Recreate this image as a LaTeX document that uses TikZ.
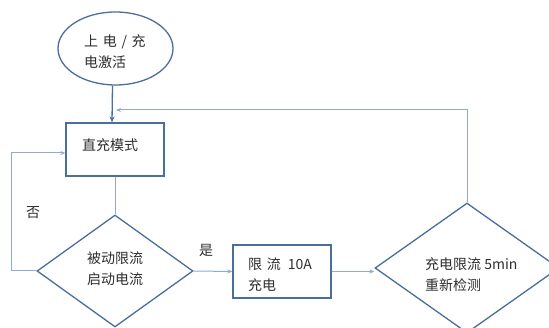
\documentclass[tikz,border=0pt]{standalone}
\usepackage{fontspec}
\newfontfamily\cjk{Noto Sans CJK SC}
\usetikzlibrary{shapes.geometric,arrows.meta}
\definecolor{shapeblue}{HTML}{4A6E9E}
\definecolor{linkblue}{HTML}{8FAAD6}
\definecolor{txt}{HTML}{2E2E2E}
\tikzset{
  shapeline/.style={draw=shapeblue, line width=1.3pt},
  boxnode/.style={shapeline, rectangle, inner sep=0pt},
  link/.style={draw=linkblue, line width=1pt, -{Stealth[length=5pt,width=4pt]}},
  plainlink/.style={draw=linkblue, line width=1pt},
  darklink/.style={draw=shapeblue, line width=1.3pt, -{Stealth[length=6pt,width=5pt]}},
  lbl/.style={font=\cjk\fontsize{14}{21}\selectfont, text=txt, inner sep=0pt, align=left, anchor=west}
}
\begin{document}
\begin{tikzpicture}[x=1pt,y=-1pt]
\useasboundingbox (0,0) rectangle (549,328);
\clip (0,0) rectangle (549,328);
\fill[white] (0,0) rectangle (549,328);
% shapes
\node[shapeline, ellipse, minimum width=115pt, minimum height=73pt, inner sep=0pt] (ell) at (115.5,48.5) {};
\node[boxnode, minimum width=98pt, minimum height=53pt] (b1) at (115,149.5) {};
\node[shapeline, diamond, minimum width=156pt, minimum height=112pt, inner sep=0pt] (d1) at (115,271) {};
\node[boxnode, minimum width=98pt, minimum height=53pt] (b2) at (282,271.5) {};
\node[shapeline, diamond, minimum width=184pt, minimum height=130pt, inner sep=0pt] (d2) at (467,268) {};
% texts
\node[lbl] (t1) at (84,42) {上\,\,电\,\,/\,\,充};
\node[lbl] (t2) at (84,62) {电激活};
\node[lbl] (t3) at (82,145) {直充模式};
\node[lbl] (t4) at (87,258) {被动限流};
\node[lbl] (t5) at (87,279) {启动电流};
\node[lbl] (t6) at (248,264) {限\,\,流\,\,\,10A};
\node[lbl] (t7) at (248,285) {充电};
\node[lbl] (t8) at (425,264) {充电限流 5min};
\node[lbl] (t9) at (425,285) {重新检测};
\node[lbl] (no) at (26,213) {否};
\node[lbl] (yes) at (199,250) {是};
% connectors
\coordinate (fbend) at (116,110);
\coordinate (lpA) at (11,271);
\coordinate (lpB) at (11,153);
\draw[darklink] ([xshift=-3pt]ell.south) -- ([xshift=-3pt]b1.north);
\draw[plainlink] (b1.south) -- (d1.north);
\draw[link] (d1.west) -- (lpA) -- (lpB) -- (lpB -| b1.west);
\draw[link] (d1.east) -- (b2.west);
\draw[link] (b2.east) -- (b2.east -| d2.west);
\draw[link] (d2.north) |- (fbend);
\end{tikzpicture}
\end{document}
